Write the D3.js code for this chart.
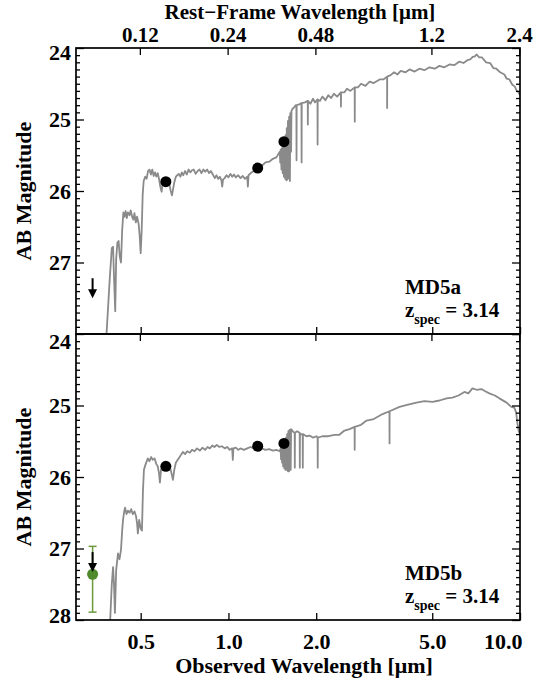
<!DOCTYPE html>
<html><head><meta charset="utf-8">
<script src="https://cdn.jsdelivr.net/npm/d3@7"></script>
<style>
body{margin:0;background:#fff}
text{font-family:"Liberation Serif","Times New Roman",serif;font-weight:bold;fill:#000}
</style>
</head><body>
<svg id="chart" width="557" height="679"></svg>
<script>
// ---------------- DATA ----------------
const zspec = 3.14;
const panelNames = ["MD5a", "MD5b"];
const obsTickValues = [0.5, 1.0, 2.0, 5.0, 10.0];
const obsTickLabels = ["0.5", "1.0", "2.0", "5.0", "10.0"];
const restTickValues = [0.12, 0.24, 0.48, 1.2, 2.4];
const restTickLabels = ["0.12", "0.24", "0.48", "1.2", "2.4"];
const magTicksTop = [24, 25, 26, 27];
const magTicksBottom = [24, 25, 26, 27, 28];

// Model SED, MD5a: [observed wavelength (um), AB mag]
const sedA = [
[0.378,28.3],[0.392,27.2],[0.398,26.80],[0.402,26.78],[0.405,27.2],[0.409,27.68],[0.412,26.95],[0.416,26.72],
[0.420,26.70],[0.424,26.92],[0.428,27.0],[0.432,26.55],[0.436,26.30],[0.440,26.36],[0.444,26.28],[0.448,26.38],
[0.452,26.30],[0.458,26.34],[0.462,26.27],[0.468,26.37],[0.472,26.40],[0.476,26.31],[0.481,26.44],[0.486,26.36],
[0.492,26.46],[0.496,26.62],[0.500,26.87],[0.504,26.55],[0.508,26.05],[0.512,25.86],[0.518,25.80],[0.524,25.83],
[0.530,25.72],[0.536,25.70],[0.542,25.77],[0.548,25.70],[0.554,25.79],[0.560,25.74],[0.566,25.80],[0.572,25.75],
[0.578,25.83],[0.584,25.94],[0.590,26.01],[0.596,25.86],[0.602,25.82],[0.608,25.87],[0.614,25.89],[0.620,25.84],
[0.628,25.92],[0.634,26.00],[0.640,26.06],[0.646,25.97],[0.652,25.88],[0.660,25.80],[0.668,25.78],[0.676,25.76],
[0.684,25.80],[0.692,25.74],[0.700,25.78],[0.710,25.72],[0.720,25.77],[0.730,25.70],[0.740,25.74],[0.750,25.71],
[0.760,25.70],[0.772,25.76],[0.784,25.72],[0.796,25.70],[0.808,25.75],[0.820,25.70],[0.832,25.73],[0.845,25.70],
[0.858,25.75],[0.870,25.72],[0.884,25.77],[0.898,25.82],[0.910,25.78],[0.922,25.83],[0.934,25.80],[0.946,25.85],
[0.952,25.94],[0.958,25.84],[0.970,25.82],[0.985,25.78],[1.000,25.81],[1.015,25.76],[1.030,25.80],[1.045,25.77],
[1.060,25.81],[1.080,25.78],[1.100,25.82],[1.120,25.79],[1.140,25.83],[1.160,25.80],[1.166,25.94],[1.172,25.78],
[1.20,25.74],[1.23,25.71],[1.26,25.67],[1.30,25.65],[1.34,25.60],[1.38,25.59],[1.42,25.55],[1.46,25.53],[1.50,25.45],
[1.505,25.60],[1.51,25.42],[1.52,25.70],[1.525,25.40],[1.535,25.75],[1.54,25.36],[1.55,25.80],[1.555,25.30],
[1.565,25.83],[1.57,25.22],[1.58,25.85],[1.585,25.12],[1.595,25.84],[1.60,25.02],[1.61,25.82],[1.615,24.96],
[1.625,25.86],[1.63,24.91],[1.64,25.45],[1.645,24.88],[1.66,24.85],[1.68,24.83],[1.70,24.80],[1.71,24.81],
[1.712,25.57],[1.714,24.80],[1.75,24.79],[1.78,24.77],[1.782,25.60],[1.784,24.77],[1.83,24.76],[1.87,24.74],
[1.872,25.07],[1.874,24.74],[1.91,24.78],[1.95,24.71],[1.98,24.76],[2.02,24.72],[2.022,25.35],[2.024,24.72],
[2.06,24.74],[2.10,24.68],[2.15,24.73],[2.20,24.66],[2.25,24.70],[2.30,24.64],[2.36,24.68],[2.43,24.62],
[2.432,24.82],[2.434,24.62],[2.50,24.62],[2.55,24.57],[2.62,24.60],[2.71,24.55],[2.712,25.03],[2.714,24.55],
[2.78,24.55],[2.85,24.50],[2.95,24.53],[3.05,24.47],[3.15,24.49],[3.30,24.44],[3.40,24.44],[3.50,24.40],
[3.502,24.84],[3.504,24.40],[3.60,24.38],[3.70,24.34],[3.80,24.37],[3.90,24.32],[4.05,24.34],[4.18,24.30],
[4.35,24.33],[4.52,24.29],[4.70,24.31],[4.89,24.27],[5.10,24.29],[5.29,24.25],[5.50,24.27],[5.73,24.23],
[5.95,24.24],[6.20,24.19],[6.40,24.21],[6.60,24.17],[6.75,24.16],[6.90,24.12],[7.00,24.12],[7.09,24.09],
[7.25,24.13],[7.40,24.13],[7.65,24.20],[7.90,24.21],[8.10,24.28],[8.30,24.29],[8.55,24.34],[8.84,24.37],
[9.00,24.43],[9.20,24.44],[9.40,24.51],[9.60,24.54],[9.75,24.60],[9.85,24.61],[10.0,24.66]
];

// Model SED, MD5b
const sedB = [
[0.390,28.3],[0.398,27.5],[0.402,27.26],[0.405,27.5],[0.408,27.9],[0.412,27.3],[0.418,27.07],[0.423,27.15],
[0.428,27.02],[0.432,26.75],[0.435,26.60],[0.439,26.48],[0.442,26.43],[0.447,26.52],[0.452,26.47],[0.458,26.50],
[0.464,26.45],[0.470,26.52],[0.476,26.48],[0.482,26.55],[0.486,26.65],[0.489,26.79],[0.494,26.60],[0.500,26.72],
[0.505,26.75],[0.509,26.2],[0.513,25.90],[0.520,25.82],[0.529,25.74],[0.536,25.78],[0.543,25.72],[0.550,25.76],
[0.558,25.74],[0.566,25.82],[0.572,25.85],[0.578,25.95],[0.582,26.08],[0.587,25.90],[0.595,25.82],[0.602,25.86],
[0.610,25.84],[0.620,25.80],[0.630,25.86],[0.638,25.95],[0.645,26.04],[0.652,25.90],[0.660,25.80],[0.670,25.76],
[0.680,25.72],[0.690,25.68],[0.698,25.65],[0.710,25.68],[0.722,25.64],[0.737,25.66],[0.750,25.62],[0.765,25.64],
[0.780,25.60],[0.798,25.63],[0.815,25.59],[0.832,25.62],[0.848,25.58],[0.863,25.60],[0.880,25.56],[0.895,25.58],
[0.912,25.55],[0.930,25.58],[0.950,25.57],[0.971,25.60],[0.990,25.58],[1.010,25.62],[1.030,25.60],[1.035,25.76],
[1.040,25.60],[1.060,25.59],[1.080,25.62],[1.100,25.60],[1.130,25.62],[1.160,25.60],[1.190,25.58],[1.220,25.60],
[1.260,25.58],[1.300,25.60],[1.340,25.62],[1.380,25.61],[1.420,25.63],[1.460,25.62],[1.500,25.64],
[1.510,25.60],[1.515,25.75],[1.52,25.58],[1.528,25.80],[1.533,25.56],[1.54,25.85],[1.545,25.53],[1.555,25.88],
[1.56,25.50],[1.57,25.90],[1.575,25.45],[1.585,25.90],[1.59,25.40],[1.60,25.92],[1.605,25.36],[1.615,25.92],
[1.62,25.34],[1.635,25.90],[1.64,25.33],[1.648,25.34],[1.67,25.37],[1.687,25.38],[1.689,25.87],[1.691,25.38],
[1.72,25.36],[1.755,25.38],[1.757,25.87],[1.759,25.39],[1.79,25.41],[1.797,25.40],[1.799,25.87],[1.801,25.40],
[1.85,25.43],[1.90,25.42],[1.95,25.45],[2.006,25.43],[2.022,25.45],[2.024,25.87],[2.026,25.45],[2.10,25.43],
[2.20,25.43],[2.313,25.41],[2.40,25.41],[2.50,25.35],[2.603,25.33],[2.708,25.30],[2.710,25.62],[2.712,25.30],
[2.85,25.27],[2.976,25.21],[3.15,25.19],[3.378,25.12],[3.567,25.08],[3.569,25.53],[3.571,25.08],[3.861,25.02],
[4.10,24.99],[4.415,24.96],[4.70,24.94],[5.01,24.95],[5.294,24.93],[5.60,24.90],[5.866,24.89],[6.15,24.86],
[6.447,24.81],[6.65,24.83],[6.868,24.76],[7.10,24.78],[7.372,24.77],[7.60,24.80],[7.85,24.83],[8.20,24.86],
[8.496,24.90],[9.0,24.96],[9.339,25.02],[9.56,25.03],[9.70,25.10],[9.80,25.25],[9.90,25.36],[10.0,25.40]
];

// Photometry
const photWave = [0.61, 1.26, 1.55];
const photMagA = [25.87, 25.68, 25.31];
const photMagB = [25.85, 25.57, 25.53];
// Upper limits
const limitWave = [0.342, 0.342];
const limitMag = [27.22, 27.05];
// Extra (green) measurement in MD5b
const greenWave = [0.342];
const greenMag = [27.36];
const greenMagLo = [26.97];
const greenMagHi = [27.89];

// ---------------- CHART ----------------
const svg = d3.select("#chart");
const L = 76, R = 520, T = 48, H = 286;
const x = d3.scaleLog().domain([0.3, 10]).range([L, R]);
const xRest = d3.scaleLog().domain([0.3/(1+zspec), 10/(1+zspec)]).range([L, R]);

const panels = [
  {name: panelNames[0], top: T, sed: sedA, phot: photMagA, lim: limitMag[0], ticks: magTicksTop},
  {name: panelNames[1], top: T + H, sed: sedB, phot: photMagB, lim: limitMag[1], ticks: magTicksBottom}
];

const defs = svg.append("defs");

panels.forEach((p, i) => {
  const y = d3.scaleLinear().domain([24, 28]).range([p.top, p.top + H]);
  const g = svg.append("g");
  defs.append("clipPath").attr("id","clip"+i).append("rect")
    .attr("x", L).attr("y", p.top).attr("width", R-L).attr("height", H);

  // spectrum
  g.append("path").datum(p.sed)
    .attr("clip-path","url(#clip"+i+")")
    .attr("fill","none").attr("stroke","#8a8a8a").attr("stroke-width",1.8).attr("stroke-linejoin","round")
    .attr("d", d3.line().x(d => x(d[0])).y(d => y(d[1])));

  // minor y ticks
  const minor = d3.range(24.1, 28, 0.1).filter(v => Math.abs(v - Math.round(v)) > 0.01);
  g.append("g").attr("transform",`translate(${L},0)`)
    .call(d3.axisLeft(y).tickValues(minor).tickSize(-4).tickFormat("").tickSizeOuter(0))
    .call(a => a.select(".domain").remove());
  g.append("g").attr("transform",`translate(${R},0)`)
    .call(d3.axisRight(y).tickValues(minor).tickSize(-4).tickFormat("").tickSizeOuter(0))
    .call(a => a.select(".domain").remove());
  // major y ticks
  const yl = g.append("g").attr("transform",`translate(${L},0)`)
    .call(d3.axisLeft(y).tickValues(p.ticks).tickSize(-8).tickPadding(5).tickFormat(d3.format("d")).tickSizeOuter(0));
  yl.select(".domain").remove();
  yl.selectAll("text").attr("font-size",22).attr("font-family",null)
    .attr("dy", d => d === 24 ? (i === 0 ? "0.5em" : "0.68em") : (d === 28 ? "0.1em" : "0.32em"));
  g.append("g").attr("transform",`translate(${R},0)`)
    .call(d3.axisRight(y).tickValues([24,25,26,27,28]).tickSize(-8).tickFormat("").tickSizeOuter(0))
    .call(a => a.select(".domain").remove());

  // x ticks top (rest-frame) and bottom (observed)
  const xt = g.append("g").attr("transform",`translate(0,${p.top})`)
    .call(d3.axisTop(xRest).tickValues(restTickValues).tickSize(-7).tickPadding(6)
      .tickFormat((d, k) => i === 0 ? restTickLabels[k] : "").tickSizeOuter(0));
  xt.select(".domain").remove();
  xt.selectAll("text").attr("font-size",21).attr("font-family",null);
  const xb = g.append("g").attr("transform",`translate(0,${p.top + H})`)
    .call(d3.axisBottom(x).tickValues(obsTickValues).tickSize(-7).tickPadding(13)
      .tickFormat((d, k) => i === 1 ? obsTickLabels[k] : "").tickSizeOuter(0));
  xb.select(".domain").remove();
  xb.selectAll("text").attr("font-size",22).attr("font-family",null)
    .attr("text-anchor", d => d === 10 ? "end" : "middle").attr("dx", d => d === 10 ? 2 : 0);
  g.selectAll(".tick line").attr("stroke","#000").attr("stroke-width",1.3);

  // frame
  g.append("rect").attr("x",L).attr("y",p.top).attr("width",R-L).attr("height",H)
    .attr("fill","none").attr("stroke","#000").attr("stroke-width",1.7);

  // photometry
  g.selectAll("circle.phot").data(photWave).join("circle").attr("class","phot")
    .attr("cx", (d) => x(d)).attr("cy", (d, k) => y(p.phot[k])).attr("r",5.5).attr("fill","#000");

  // green point with error bar (bottom panel)
  if (i === 1) {
    greenWave.forEach((w, k) => {
      const cx = x(w);
      g.append("line").attr("x1",cx).attr("x2",cx).attr("y1",y(greenMagLo[k])).attr("y2",y(greenMagHi[k]))
        .attr("stroke","#6a9a3a").attr("stroke-width",1.5);
      [greenMagLo[k], greenMagHi[k]].forEach(m => g.append("line").attr("x1",cx-4).attr("x2",cx+4)
        .attr("y1",y(m)).attr("y2",y(m)).attr("stroke","#6a9a3a").attr("stroke-width",1.5));
      g.append("circle").attr("cx",cx).attr("cy",y(greenMag[k])).attr("r",5.5).attr("fill","#4f8a2c");
    });
  }

  // upper-limit arrow
  const ax = x(limitWave[i]);
  const y0 = y(p.lim), y1 = y0 + 20;
  g.append("line").attr("x1",ax).attr("x2",ax).attr("y1",y0).attr("y2",y1 - 6)
    .attr("stroke","#000").attr("stroke-width",2);
  g.append("path").attr("d",`M${ax-4.5},${y1-9} L${ax},${y1} L${ax+4.5},${y1-9} Z`).attr("fill","#000");

  // labels
  g.append("text").attr("x",405).attr("y",p.top + 246).attr("font-size",21).text(p.name);
  const zt = g.append("text").attr("x",405).attr("y",p.top + 269).attr("font-size",21);
  zt.append("tspan").text("z");
  zt.append("tspan").attr("font-size",14).attr("dy",7).text("spec");
  zt.append("tspan").attr("dy",-7).text(" = " + zspec.toFixed(2));

  // y title
  svg.append("text").attr("transform",`translate(31,${p.top + H/2}) rotate(-90)`)
    .attr("text-anchor","middle").attr("font-size",22).text("AB Magnitude");
});

svg.append("text").attr("x",300).attr("y",19).attr("text-anchor","middle").attr("font-size",21)
  .text("Rest\u2212Frame Wavelength [\u03bcm]");
svg.append("text").attr("x",304).attr("y",673).attr("text-anchor","middle").attr("font-size",22)
  .text("Observed Wavelength [\u03bcm]");
</script>
</body></html>
